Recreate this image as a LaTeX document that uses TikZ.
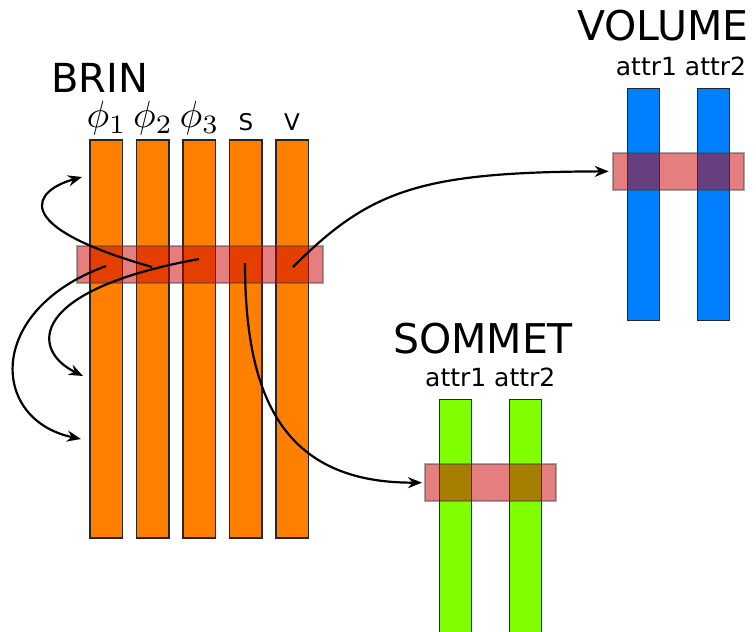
\documentclass[tikz,border=0pt]{standalone}
\usepackage{fontspec}
\setmainfont{DejaVu Sans}
\usetikzlibrary{arrows.meta}
\definecolor{brinc}{RGB}{255,128,0}
\definecolor{volc}{RGB}{0,128,255}
\definecolor{somc}{RGB}{128,255,0}
\definecolor{stripc}{RGB}{204,0,0}
\begin{document}
\begin{tikzpicture}[x=1pt,y=-1pt,
  col/.style={draw=black!85, line width=1.4pt, inner sep=0, outer sep=0, anchor=north west, minimum width=32.5pt},
  strip/.style={fill=stripc, fill opacity=0.5, draw=black!75, draw opacity=0.45, line width=1.8pt, inner sep=0, outer sep=0, anchor=north west},
  title/.style={inner sep=0, font=\fontsize{41}{41}\selectfont},
  attr/.style={inner sep=0, anchor=base, font=\fontsize{25}{25}\selectfont},
  lab/.style={inner sep=0, anchor=base},
  philab/.style={inner sep=0, anchor=base, font=\fontsize{10}{10}\selectfont, scale=3.8},
  conn/.style={-{Stealth[length=14pt,width=11pt]}, line width=2.2pt, black}]
\clip (0,0) rectangle (756,632);
% BRIN
\node[col, fill=brinc, minimum height=398pt] (b1) at (90,140) {};
\node[col, fill=brinc, minimum height=398pt] (b2) at (136.5,140) {};
\node[col, fill=brinc, minimum height=398pt] (b3) at (183,140) {};
\node[col, fill=brinc, minimum height=398pt] (b4) at (229.5,140) {};
\node[col, fill=brinc, minimum height=398pt] (b5) at (276,140) {};
\node[strip, minimum width=246.6pt, minimum height=37pt] (bstrip) at (76.7,246) {};
\node[title, anchor=base west, font=\fontsize{40}{40}\selectfont] (brin) at (51,92) {BRIN};
\node[philab] (l1) at (106.5,127.5) {$\phi_1$};
\node[philab] (l2) at (153,127.5) {$\phi_2$};
\node[philab] (l3) at (199.5,127.5) {$\phi_3$};
\node[lab, font=\fontsize{23}{23}\selectfont] (l4) at (246,130) {S};
\node[lab, font=\fontsize{23}{23}\selectfont] (l5) at (292,130) {V};
% SOMMET
\node[col, fill=somc, minimum width=32pt, minimum height=250pt] (s1) at (439.3,399.3) {};
\node[col, fill=somc, minimum width=32pt, minimum height=250pt] (s2) at (509.3,399.3) {};
\node[strip, minimum width=130.7pt, minimum height=37.3pt] (sstrip) at (425,464) {};
\node[title, anchor=base] (sommet) at (483,353) {SOMMET};
\node[attr] (sattr) at (490.3,386) {attr1 attr2};
% VOLUME
\node[col, fill=volc, minimum width=32pt, minimum height=232.4pt] (v1) at (627.3,88.3) {};
\node[col, fill=volc, minimum width=32pt, minimum height=232.4pt] (v2) at (697.3,88.3) {};
\node[strip, minimum width=131.3pt, minimum height=37.3pt] (vstrip) at (612.7,152.7) {};
\node[title, anchor=base west] (volume) at (577,40) {VOLUME};
\node[attr] (vattr) at (681,75) {attr1 attr2};
% connectors
\coordinate (sA) at (152,267);
\coordinate (eA) at (82,177);
\coordinate (sB) at (106,266);
\coordinate (eB) at (81,439);
\coordinate (sC) at (199,259);
\coordinate (eC) at (83,376);
\coordinate (sD) at (245,263);
\coordinate (sE) at (293,267);
\draw[conn] (sA) .. controls (5,225) and (35,190) .. (eA);
\draw[conn] (sB) .. controls (-15,310) and (-10,420) .. (eB);
\draw[conn] (sC) .. controls (28,290) and (30,350) .. (eC);
\draw[conn] (sD) .. controls (245,400) and (285,483) .. ([xshift=-3pt]sstrip.west);
\draw[conn] (sE) .. controls (370,190) and (420,172) .. ([xshift=-4pt]vstrip.west);
\end{tikzpicture}
\end{document}
